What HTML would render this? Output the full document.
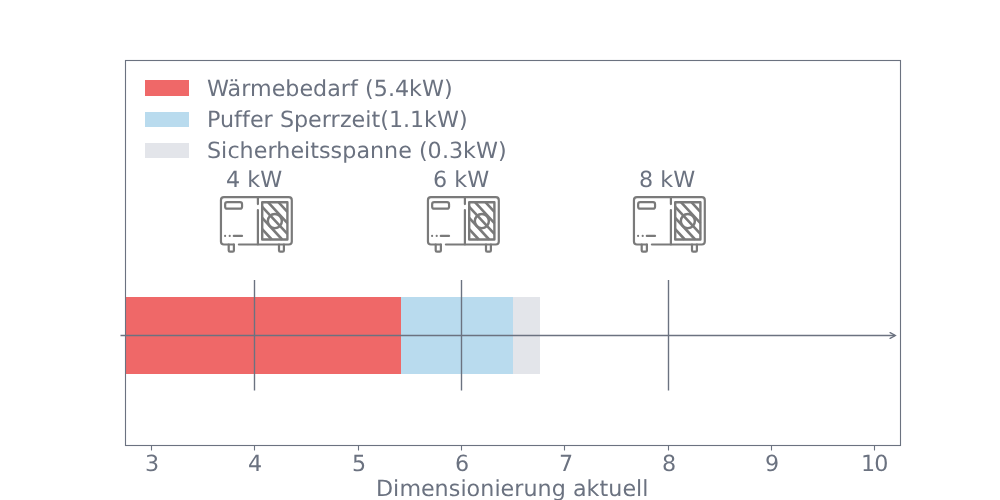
<!DOCTYPE html>
<html lang="de">
<head>
<meta charset="utf-8">
<title>Dimensionierung aktuell</title>
<style>
html,body{margin:0;padding:0;background:#ffffff;width:1000px;height:500px;overflow:hidden}
svg{display:block}
text{font-family:"DejaVu Sans","Liberation Sans",sans-serif;font-size:22.222px;fill:#6b7280;text-rendering:geometricPrecision;font-variant-ligatures:none;font-kerning:none}
.ln{stroke:#6b7280;fill:none}
</style>
</head>
<body>
<svg width="1000" height="500" viewBox="0 0 1000 500">
<defs>
<filter id="soft" x="-5%" y="-5%" width="110%" height="110%"><feGaussianBlur stdDeviation="0.35"/></filter>
<g id="hp" fill="none" stroke="#7a7a7a" stroke-width="2.2" stroke-linecap="round" stroke-linejoin="round" filter="url(#soft)">
  <!-- body -->
  <path d="M22.9 52.5 H72.8 a3 3 0 0 0 3 -3 V8.15 a3 3 0 0 0 -3 -3 H7.95 a3 3 0 0 0 -3 3 V49.5 a3 3 0 0 0 3 3 H17.9"/>
  <!-- divider -->
  <path d="M41.9 5.15 V12.1 M41.9 18 V52.3"/>
  <!-- display -->
  <rect x="9.15" y="10.15" width="16.9" height="6.5" rx="2"/>
  <!-- dots + dash -->
  <path d="M9.1 43.9 h0.01 M13.7 43.9 h0.01 M17.8 43.9 H26"/>
  <!-- legs -->
  <path d="M12.7 52.5 V58.5 a1.2 1.2 0 0 0 1.2 1.2 H16.7 a1.2 1.2 0 0 0 1.2 -1.2 V52.5"/>
  <path d="M63 52.5 V58.5 a1.2 1.2 0 0 0 1.2 1.2 H66.7 a1.2 1.2 0 0 0 1.2 -1.2 V52.5"/>
  <!-- grille -->
  <rect x="46.2" y="10.2" width="25.2" height="37.3" stroke-width="2.4"/>
  <circle cx="58.85" cy="29.1" r="7.05" stroke-width="2.5"/>
  <path stroke-linecap="butt" stroke-width="2.6" d="M62.41 10.2 L71.4 19.91 M51.94 10.2 L71.4 31.21 M46.2 14.77 L71.4 41.98 M46.2 25.97 L66.14 47.5 M46.2 37.17 L55.77 47.5"/>
</g>
</defs>
<rect x="0" y="0" width="1000" height="500" fill="#ffffff"/>

<!-- bars -->
<rect x="125" y="297" width="276" height="77" fill="#ef6868"/>
<rect x="401" y="297" width="112" height="77" fill="#b9dbee"/>
<rect x="513" y="297" width="27" height="77" fill="#e3e5ea"/>

<!-- vertical markers -->
<path class="ln" stroke-width="1.39" d="M254.5 280 V390.5 M461.5 280 V390.5 M668.5 280 V390.5"/>

<!-- arrow axis -->
<path class="ln" stroke-width="1.39" d="M120.5 335.5 H895"/>
<path class="ln" stroke-width="1.39" stroke-linecap="round" d="M890.1 332.7 L895.3 335.5 L890.1 338.3"/>

<!-- axes frame -->
<rect class="ln" x="125.5" y="60.5" width="775" height="385" stroke-width="1.11"/>

<!-- ticks -->
<path class="ln" stroke-width="1.11" d="M151.5 445.5 v4.9 M254.5 445.5 v4.9 M358.5 445.5 v4.9 M461.5 445.5 v4.9 M564.5 445.5 v4.9 M668.5 445.5 v4.9 M771.5 445.5 v4.9 M874.5 445.5 v4.9"/>
<!-- tick labels -->
<text x="145.03" y="471">3</text>
<text x="248.08" y="471">4</text>
<text x="351.98" y="471">5</text>
<text x="455.03" y="471">6</text>
<text x="559.00" y="471">7</text>
<text x="661.98" y="471">8</text>
<text x="765.03" y="471">9</text>
<text x="861.00 874.29" y="471">10</text>
<!-- axis label -->
<text x="376 393.12 399.38 421 434.62 448.75 460.38 466.62 480.25 494.38 500.62 514.25 523.5 537.62 551.75 565.88 573 586.62 599.5 608.25 622.38 636 642.25" y="496">Dimensionierung aktuell</text>
<!-- heat pump size labels -->
<text x="226.03 240.16 247.28 260.15" y="187">4 kW</text>
<text x="433.03 447.15 454.28 467.15" y="187">6 kW</text>
<text x="639.03 653.15 660.28 673.15" y="187">8 kW</text>

<!-- legend -->
<rect x="145" y="80" width="44" height="16" fill="#ef6868"/>
<rect x="145" y="112" width="44" height="15" fill="#b9dbee"/>
<rect x="145" y="143" width="44" height="15" fill="#e3e5ea"/>
<text x="206.9 227.53 241.15 250.03 271.65 285.27 299.4 313.02 327.15 340.77 350.02 357.9 365.02 373.65 387.9 394.9 409.02 421.9 443.9" y="96">Wärmebedarf (5.4kW)</text>
<text x="207 220 234.12 242 249.88 263.5 272.75 279.88 294 308.12 321.75 330.62 339.88 351.62 365.25 371.5 380.25 388.88 403 410 424.12 437 459" y="127">Puffer Sperrzeit(1.1kW)</text>
<text x="207 221.12 227.38 239.62 253.75 267.38 276.25 290.38 304 310.25 319 330.62 342.25 356.38 370 384.12 398.25 411.88 419 427.62 441.88 448.88 463 475.88 497.88" y="158">Sicherheitsspanne (0.3kW)</text>

<!-- heat pump icons -->
<use href="#hp" x="216" y="192"/>
<use href="#hp" x="423" y="192"/>
<use href="#hp" x="629" y="192"/>
</svg>
</body>
</html>
